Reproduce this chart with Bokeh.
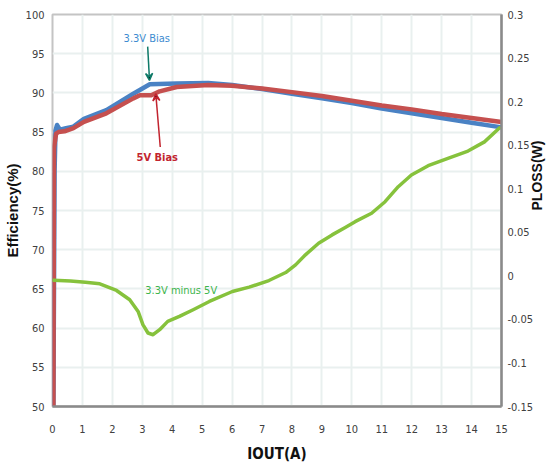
from math import pi
from bokeh.plotting import figure
from bokeh.models import (Range1d, LinearAxis, FixedTicker, Label, Arrow, VeeHead)
from bokeh.embed import file_html
from bokeh.resources import INLINE

# ---- data ----
blue_x = [0.03, 0.07, 0.1, 0.15, 0.25, 0.45, 0.7, 1.05, 1.8, 2.7, 3.25, 4.15, 5.2, 6.0,
          7.0, 8.0, 9.0, 10.0, 11.0, 12.0, 13.0, 14.0, 15.0]
blue_eff = [50, 80, 85.2, 85.9, 85.3, 85.5, 85.7, 86.7, 87.8, 89.9, 91.1, 91.2, 91.25, 91.0,
            90.5, 89.9, 89.3, 88.7, 88.0, 87.4, 86.8, 86.2, 85.6]

red_x = [0.03, 0.05, 0.12, 0.2, 0.4, 0.7, 1.05, 1.8, 2.7, 2.92, 3.3, 3.58, 4.15, 5.2, 6.0,
         7.0, 8.0, 9.0, 10.0, 11.0, 12.0, 13.0, 14.0, 15.0]
red_eff = [50, 83, 84.8, 85.0, 85.1, 85.5, 86.3, 87.4, 89.3, 89.7, 89.7, 90.2, 90.75, 91.0, 90.9,
           90.55, 90.1, 89.6, 89.0, 88.4, 87.9, 87.3, 86.8, 86.3]

diff_x = [0.03, 0.6, 1.1, 1.58, 2.14, 2.58, 2.86, 3.02, 3.19, 3.36, 3.58, 3.85, 4.24, 4.7,
          5.24, 6.01, 6.57, 7.23, 7.79, 8.12, 8.45, 8.89, 9.34, 9.78, 10.11, 10.66, 11.11,
          11.55, 11.99, 12.55, 13.21, 13.88, 14.43, 14.93]
diff_ploss = [-0.005, -0.006, -0.0075, -0.0092, -0.0168, -0.0275, -0.0409, -0.0561, -0.0656,
              -0.0676, -0.0618, -0.0523, -0.0466, -0.0389, -0.0294, -0.018, -0.013, -0.0054,
              0.0038, 0.0126, 0.0241, 0.0374, 0.047, 0.0555, 0.0622, 0.0718, 0.0851, 0.1023,
              0.1157, 0.1264, 0.1348, 0.1432, 0.1538, 0.1698]

x_ticks = list(range(0, 16))
eff_ticks = [50, 55, 60, 65, 70, 75, 80, 85, 90, 95, 100]
ploss_ticks = [-0.15, -0.1, -0.05, 0, 0.05, 0.1, 0.15, 0.2, 0.25, 0.3]

NARROW = "DejaVu Sans Condensed, Liberation Sans, sans-serif"
BOLD = "Liberation Sans, Arial, sans-serif"
TICK_COLOR = "#404040"
TITLE_COLOR = "#111111"

p = figure(width=556, height=465, output_backend="svg", toolbar_location=None,
           x_range=Range1d(0, 15), y_range=Range1d(50, 100),
           min_border_left=52, min_border_right=52, min_border_top=14, min_border_bottom=58)
p.extra_y_ranges = {"ploss": Range1d(-0.15, 0.3)}
p.background_fill_color = "white"
p.border_fill_color = "white"
p.outline_line_color = "#c4c4c4"
p.outline_line_width = 2

# grid
p.xgrid.ticker = FixedTicker(ticks=x_ticks)
p.ygrid.ticker = FixedTicker(ticks=eff_ticks)
for g in (p.xgrid, p.ygrid):
    g.grid_line_color = "#e9f0ef"
    g.grid_line_width = 2

# bottom axis
xa = p.xaxis[0]
xa.ticker = FixedTicker(ticks=x_ticks)
xa.axis_line_color = "#8a8a8a"
xa.axis_line_width = 2.5
xa.major_tick_line_color = None
xa.minor_tick_line_color = None
xa.major_tick_out = 0
xa.major_tick_in = 0
xa.major_label_standoff = 18
xa.major_label_text_font = NARROW
xa.major_label_text_font_size = "11px"
xa.major_label_text_color = TICK_COLOR
xa.axis_label = "IOUT(A)"
xa.axis_label_text_font = NARROW
xa.axis_label_text_font_style = "bold"
xa.axis_label_text_font_size = "15px"
xa.axis_label_text_color = TITLE_COLOR
xa.axis_label_standoff = 9

# left axis
ya = p.yaxis[0]
ya.ticker = FixedTicker(ticks=eff_ticks)
ya.axis_line_color = None
ya.major_tick_line_color = None
ya.minor_tick_line_color = None
ya.major_tick_out = 0
ya.major_tick_in = 0
ya.major_label_standoff = 8
ya.major_label_text_font = NARROW
ya.major_label_text_font_size = "11px"
ya.major_label_text_color = TICK_COLOR
ya.axis_label = "Efficiency(%)"
ya.axis_label_text_font = BOLD
ya.axis_label_text_font_style = "bold"
ya.axis_label_text_font_size = "15px"
ya.axis_label_text_color = TITLE_COLOR
ya.axis_label_standoff = 2

# right axis
ra = LinearAxis(y_range_name="ploss", ticker=FixedTicker(ticks=ploss_ticks))
ra.major_label_overrides = {t: f"{t:g}" for t in ploss_ticks}
ra.axis_line_color = "#8a8a8a"
ra.axis_line_width = 2.5
ra.major_tick_line_color = None
ra.minor_tick_line_color = None
ra.major_tick_out = 0
ra.major_tick_in = 0
ra.major_label_standoff = 6
ra.major_label_text_font = NARROW
ra.major_label_text_font_size = "11px"
ra.major_label_text_color = TICK_COLOR
ra.axis_label = "PLOSS(W)"
ra.axis_label_text_font = BOLD
ra.axis_label_text_font_style = "bold"
ra.axis_label_text_font_size = "14px"
ra.axis_label_text_color = TITLE_COLOR
ra.axis_label_standoff = 1
try:
    ra.axis_label_orientation = pi / 2
except Exception:
    pass
p.add_layout(ra, "right")

# series
p.line(blue_x, blue_eff, line_color="#4a82c4", line_width=4.5, line_join="round")
p.line(red_x, red_eff, line_color="#c5504f", line_width=4.5, line_join="round")
p.line(diff_x, diff_ploss, y_range_name="ploss", line_color="#86c23c", line_width=3.5,
       line_join="round", line_cap="round")

# annotations
p.add_layout(Label(x=3.15, y=96.9, text="3.3V Bias", text_align="center",
                   text_baseline="middle", text_font=NARROW, text_font_size="11px",
                   text_color="#3d8bd0"))
p.add_layout(Arrow(x_start=3.18, y_start=95.9, x_end=3.24, y_end=91.6,
                   line_color="#0e7a68", line_width=1.5,
                   end=VeeHead(size=7, line_color="#0e7a68", line_width=1.5)))
p.add_layout(Label(x=3.5, y=81.8, text="5V Bias", text_align="center",
                   text_baseline="middle", text_font=NARROW, text_font_size="11px",
                   text_font_style="bold", text_color="#c2242f"))
p.add_layout(Arrow(x_start=3.6, y_start=83.1, x_end=3.45, y_end=89.9,
                   line_color="#c2242f", line_width=1.5,
                   end=VeeHead(size=7, line_color="#c2242f", line_width=1.5)))
p.add_layout(Label(x=4.3, y=64.8, text="3.3V minus 5V", text_align="center",
                   text_baseline="middle", text_font=NARROW, text_font_size="11px",
                   text_color="#3db54c"))

open("out.html", "w").write(file_html(p, INLINE))
